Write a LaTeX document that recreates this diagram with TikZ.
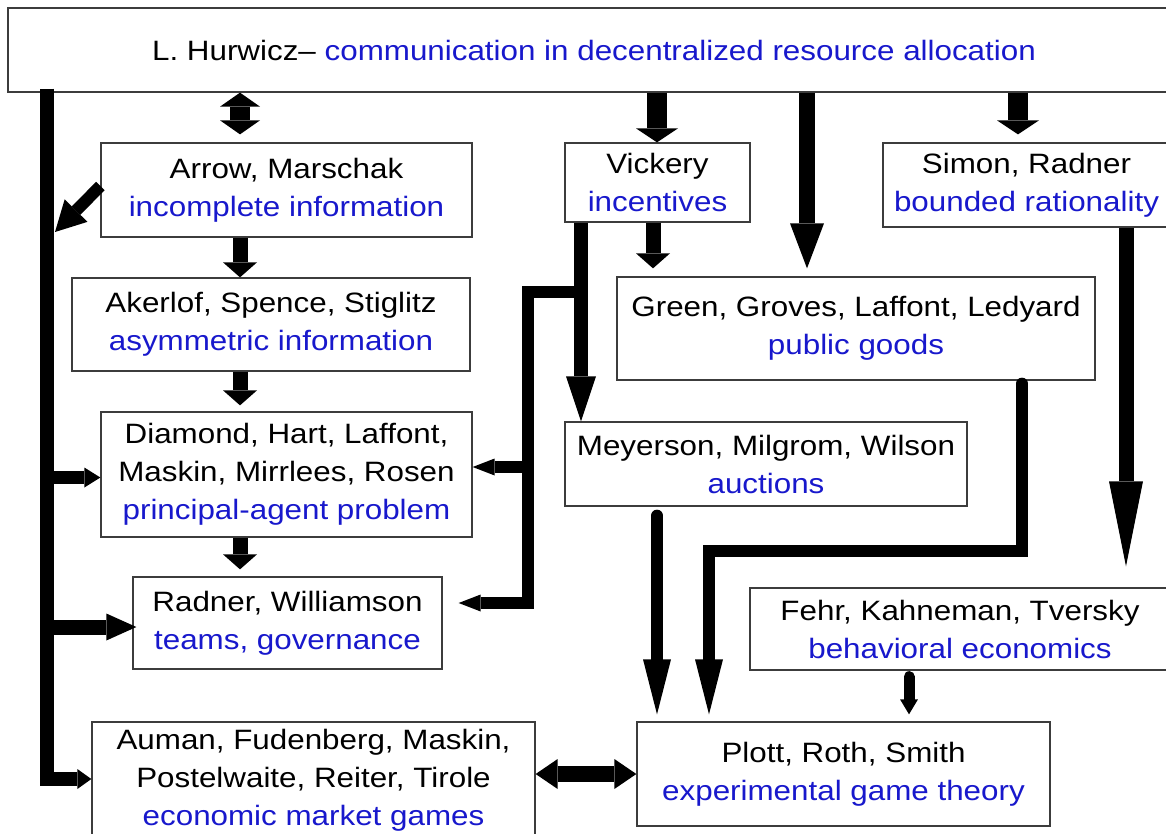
\documentclass[tikz,border=0pt]{standalone}
\usepackage{fontspec}
\setmainfont{Liberation Sans}[FakeStretch=1.12]
\usetikzlibrary{arrows.meta}
\definecolor{topicblue}{RGB}{24,24,204}
\definecolor{framegray}{RGB}{60,60,60}
\newcommand{\field}[1]{\textcolor{topicblue}{#1}}

\tikzset{
  box/.style={draw=framegray, line width=1.3pt, fill=white, align=center,
    inner sep=0pt, font=\fontsize{28}{38}\selectfont},
  tip/.style={-{Triangle[#1,line width=0pt]}},
  stub/.style={line width=15pt, tip={length=15pt,width=34pt}},
  widestub/.style={line width=20pt, tip={length=14pt,width=42pt}},
  dblstub/.style={line width=20pt,
    {Triangle[length=14pt,width=40pt,line width=0pt]}-{Triangle[length=14pt,width=40pt,line width=0pt]}},
  longarrow/.style={line width=16pt, tip={length=45pt,width=34pt}},
  spike/.style={line width=15pt, tip={length=85pt,width=34pt}},
  funnel/.style={line width=12pt, line join=miter, tip={length=55pt,width=28pt}},
  trunk/.style={line width=14pt, line join=miter},
  slim/.style={line width=13pt, tip={length=16pt,width=20pt}},
  mid/.style={line width=15pt, tip={length=30pt,width=27pt}},
  diag/.style={line width=12pt, tip={length=30pt,width=32pt}},
  branch/.style={line width=12pt, line join=miter, tip={length=22pt,width=17pt}},
  dbl/.style={line width=16pt,
    {Triangle[length=22pt,width=30pt,line width=0pt]}-{Triangle[length=22pt,width=30pt,line width=0pt]}}
}

\begin{document}
\begin{tikzpicture}[x=1pt, y=-1pt]
  \useasboundingbox (0,0) rectangle (1166,834);
  \clip (0,0) rectangle (1166,834);
  \fill[white] (0,0) rectangle (1166,834);

  % boxes
  \node[box, minimum width=1172pt, minimum height=84pt] (top) at (594,50)
    {L. Hurwicz– \field{communication in decentralized resource allocation}};
  \node[box, minimum width=371pt, minimum height=94pt] (arrowm) at (286.5,190)
    {Arrow, Marschak\\\field{incomplete information}};
  \node[box, minimum width=398pt, minimum height=93pt] (akerlof) at (271,324.5)
    {Akerlof, Spence, Stiglitz\\\field{asymmetric information}};
  \node[box, minimum width=371pt, minimum height=125pt] (diamond) at (286.5,474.5)
    {Diamond, Hart, Laffont,\\Maskin, Mirrlees, Rosen\\\field{principal-agent problem}};
  \node[box, minimum width=309pt, minimum height=92pt] (radner) at (287.5,623)
    {Radner, Williamson\\\field{teams, governance}};
  \node[box, minimum width=443pt, minimum height=116pt] (auman) at (313.5,780)
    {Auman, Fudenberg, Maskin,\\Postelwaite, Reiter, Tirole\\\field{economic market games}};
  \node[box, minimum width=185pt, minimum height=79pt] (vickery) at (657.5,182.5)
    {Vickery\\\field{incentives}};
  \node[box, minimum width=478pt, minimum height=103pt] (green) at (856,328.5)
    {Green, Groves, Laffont, Ledyard\\\field{public goods}};
  \node[box, minimum width=402pt, minimum height=84pt] (meyerson) at (766,464)
    {Meyerson, Milgrom, Wilson\\\field{auctions}};
  \node[box, minimum width=287pt, minimum height=84pt] (simon) at (1026.5,185)
    {Simon, Radner\\\field{bounded rationality}};
  \node[box, minimum width=420pt, minimum height=82pt] (fehr) at (960,629)
    {Fehr, Kahneman, Tversky\\\field{behavioral economics}};
  \node[box, minimum width=413pt, minimum height=104pt] (plott) at (843.5,774)
    {Plott, Roth, Smith\\\field{experimental game theory}};

  % columns and bends
  \coordinate (colA) at (240,0);
  \coordinate (colTrunk) at (47,0);
  \coordinate (colV) at (581,0);
  \coordinate (colB) at (528,0);
  \coordinate (colM) at (657,0);
  \coordinate (colVG) at (653,0);
  \coordinate (colGr) at (807,0);
  \coordinate (colS) at (1018,0);
  \coordinate (colSF) at (1126,0);
  \coordinate (colF) at (909,0);
  \coordinate (colGP) at (1022,0);
  \coordinate (split) at (587,292);
  \coordinate (bendB) at (528,292);
  \coordinate (turnG) at (709,551);
  \coordinate (hitTrunk) at (55,232);

  % left trunk
  \draw[trunk, tip={length=14pt,width=20pt}] ([yshift=4pt]top.south -| colTrunk) |- ([yshift=1pt]auman.west);
  \draw[diag] ([yshift=4pt]arrowm.west) -- (hitTrunk);
  \draw[slim] ([yshift=-3pt]diamond.west -| colTrunk) -- ([yshift=-3pt]diamond.west);
  \draw[mid] ([yshift=-4pt]radner.west -| colTrunk) -- ([yshift=-4pt,xshift=4pt]radner.west);

  % left column
  \draw[dblstub] (top.south -| colA) -- ([yshift=8pt]arrowm.north -| colA);
  \draw[stub] (arrowm.south -| colA) -- (akerlof.north -| colA);
  \draw[stub] (akerlof.south -| colA) -- ([yshift=6pt]diamond.north -| colA);
  \draw[stub] (diamond.south -| colA) -- ([yshift=7pt]radner.north -| colA);

  % middle
  \draw[widestub] (top.south -| colM) -- (vickery.north -| colM);
  \draw[stub] (vickery.south -| colVG) -- ([yshift=8pt]green.north -| colVG);
  \draw[longarrow] (top.south -| colGr) -- ([yshift=8pt]green.north -| colGr);
  \draw[longarrow, line width=14pt, tip={length=45pt,width=30pt}] (vickery.south -| colV) -- (meyerson.north -| colV);
  \draw[branch] (split) -- (bendB) |- ([xshift=16pt,yshift=20pt]radner.east);
  \draw[branch] ([yshift=7.5pt]diamond.east -| colB) -- ([yshift=7.5pt]diamond.east);

  % right
  \draw[widestub] (top.south -| colS) -- ([yshift=8pt]simon.north -| colS);
  \draw[spike] (simon.south -| colSF) -- ([yshift=21pt]fehr.north -| colSF);

  % into Plott
  \draw[funnel, line cap=round] ([yshift=-9pt]meyerson.south -| colM) -- ([yshift=7pt]plott.north -| colM);
  \draw[funnel, line cap=round] ([yshift=-3pt]green.south -| colGP) |- (turnG) -- ([yshift=7pt]plott.north -| turnG);
  \draw[line width=11pt, line cap=round, tip={length=15pt,width=18pt}] ([yshift=-6pt]fehr.south -| colF) -- ([yshift=7pt]plott.north -| colF);
  \draw[dbl] (auman.east |- plott.west) -- (plott.west);
\end{tikzpicture}
\end{document}
